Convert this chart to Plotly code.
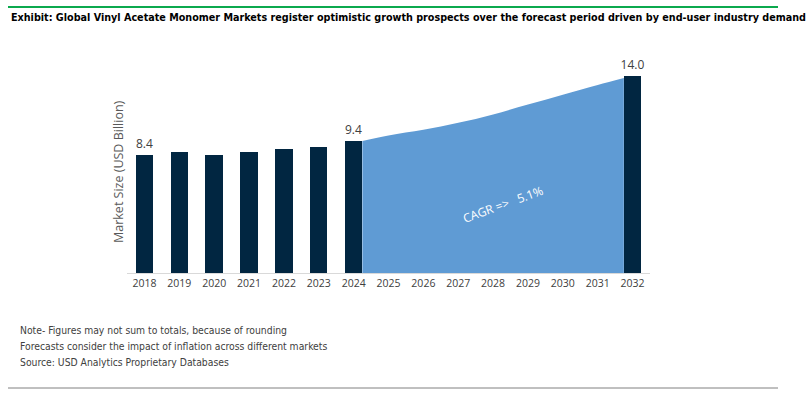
import plotly.graph_objects as go

years_hist = [2018, 2019, 2020, 2021, 2022, 2023, 2024]
values_hist = [8.4, 8.6, 8.4, 8.6, 8.8, 9.0, 9.4]
years_fc = [2025, 2026, 2027, 2028, 2029, 2030, 2031]
values_fc = [9.8, 10.2, 10.7, 11.3, 12.0, 12.7, 13.4]
year_end = 2032
value_end = 14.0
area_end = 13.9
labels = {2018: "8.4", 2024: "9.4", 2032: "14.0"}
cagr_text = "CAGR =>   5.1%"
title = "Exhibit: Global Vinyl Acetate Monomer Markets register optimistic growth prospects over the forecast period driven by end-user industry demand"
notes = ["Note- Figures may not sum to totals, because of rounding",
         "Forecasts consider the impact of inflation across different markets",
         "Source: USD Analytics Proprietary Databases"]

BAR_W = 0.5
BAR_COLOR = "#012641"
AREA_COLOR = "#5F9BD4"

L, T, PW, PH = 127, 40, 523, 233


def px(xp):
    return (xp - L) / PW


def py(yp):
    return (T + PH - yp) / PH


fig = go.Figure()

ax = [years_hist[-1] + BAR_W / 2] + years_fc + [year_end - BAR_W / 2]
ay = [values_hist[-1]] + values_fc + [area_end]
fig.add_trace(go.Scatter(x=ax, y=ay, mode="lines", line=dict(width=0, shape="spline", smoothing=1.0),
                         fill="tozeroy", fillcolor=AREA_COLOR, hoverinfo="skip", showlegend=False))

bx = years_hist + [year_end]
by = values_hist + [value_end]
fig.add_trace(go.Bar(x=bx, y=by, width=BAR_W, marker=dict(color=BAR_COLOR, line=dict(width=0)),
                     text=[labels.get(x, "") for x in bx], textposition="outside",
                     constraintext="none",
                     textfont=dict(family="Open Sans", size=12, color="#404040"),
                     cliponaxis=False, showlegend=False))

all_years = years_hist + years_fc + [year_end]
fig.update_xaxes(range=[2017.5, 2032.5], tickmode="array", tickvals=all_years,
                 ticktext=[str(y) for y in all_years], showgrid=False, zeroline=False,
                 showline=True, linecolor="#D9D9D9", linewidth=1, ticks="",
                 tickfont=dict(family="Open Sans", size=10.5, color="#404040"))
fig.update_yaxes(range=[0, 16.6], visible=False)

ann = []
ann.append(dict(x=px(9), y=py(17), xref="paper", yref="paper", yanchor="middle",
                xanchor="left", text="<b>" + title + "</b>", showarrow=False,
                font=dict(family="DejaVu Sans Condensed", size=10.7, color="#000000")))
ann.append(dict(x=2028.27, y=4.85, xref="x", yref="y", text=cagr_text, showarrow=False,
                textangle=-20, font=dict(family="Open Sans", size=12, color="white")))
ann.append(dict(x=px(118), y=py(172), xref="paper", yref="paper",
                text="Market Size (USD Billion)", textangle=-90, showarrow=False,
                xanchor="center", yanchor="middle",
                font=dict(family="Open Sans", size=12.5, color="#595959")))
for i, n in enumerate(notes):
    ann.append(dict(x=px(18), y=py(330 + 16 * i), xref="paper", yref="paper",
                    text=n, showarrow=False, xanchor="left", yanchor="middle",
                    font=dict(family="DejaVu Sans Condensed", size=10.3, color="#404040")))

shapes = [
    dict(type="line", xref="paper", yref="paper", x0=px(8), x1=px(778),
         y0=py(7), y1=py(7), line=dict(color="#0BA94D", width=2)),
    dict(type="line", xref="paper", yref="paper", x0=px(8), x1=px(778),
         y0=py(388), y1=py(388), line=dict(color="#808080", width=1)),
]

fig.update_layout(width=811, height=405, margin=dict(l=L, r=811 - L - PW, t=T, b=405 - T - PH),
                  plot_bgcolor="white", paper_bgcolor="white", annotations=ann, shapes=shapes,
                  bargap=0)
fig.write_html("out.html", config={"displayModeBar": False},
               post_script="document.body.style.margin='0';document.body.style.overflow='hidden';")
